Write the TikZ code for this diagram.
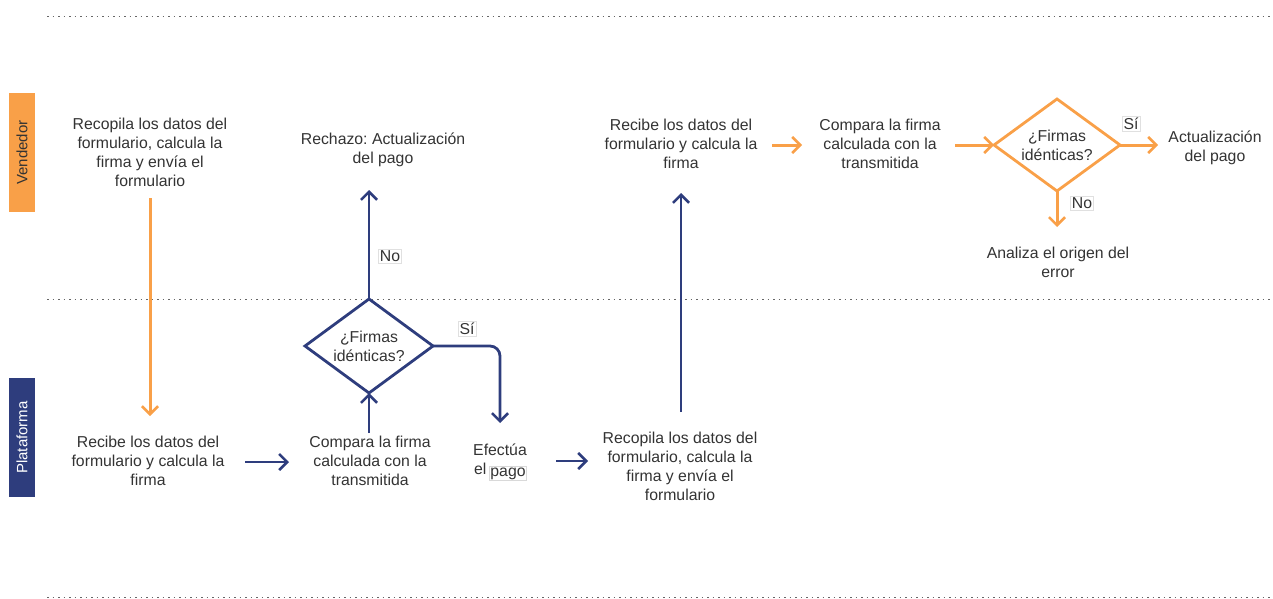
\documentclass[tikz,border=0pt]{standalone}
\usepackage{fontspec}
\setmainfont{Liberation Sans}
\usetikzlibrary{arrows.meta,shapes.geometric}
\definecolor{orng}{HTML}{F9A048}
\definecolor{navy}{HTML}{2E3D7D}
\definecolor{txt}{HTML}{333333}
\frenchspacing
\tikzset{
  lbl/.style={align=center,text=txt,font=\fontsize{15.8}{19}\selectfont\frenchspacing,inner sep=0pt},
  tag/.style={text=txt,font=\fontsize{15.8}{19}\selectfont,draw=black!12,fill=white,inner sep=1.5pt,line width=0.6pt},
  oarr/.style={draw=orng,line width=3pt,-{Straight Barb[length=8,width=16,line width=2.6pt]}},
  narr/.style={draw=navy,line width=2.8pt,-{Straight Barb[length=8,width=16,line width=2.6pt]}},
  sep/.style={draw=black!60,line width=1pt,dash pattern=on 1.5pt off 4pt},
}
\begin{document}
\begin{tikzpicture}[x=1pt,y=-1pt]
\useasboundingbox (0,0) rectangle (1273,599);
% separators
\draw[sep] (47,17) -- (1273,17);
\draw[sep] (47,299) -- (1273,299);
\draw[sep] (47,597) -- (1273,597);
% lane labels
\node[fill=orng,minimum width=26,minimum height=119,inner sep=0pt] (lv) at (22,152.5) {};
\node[rotate=90,text=txt,font=\fontsize{15}{18}\selectfont] (lvt) at (lv.center) {Vendedor};
\node[fill=navy,minimum width=26,minimum height=119,inner sep=0pt] (lp) at (22,437.5) {};
\node[rotate=90,text=white,font=\fontsize{15}{18}\selectfont] (lpt) at (lp.center) {Plataforma};
% nodes
\node[lbl] (a) at (150,152) {Recopila los datos del\\formulario, calcula la\\firma y envía el\\formulario};
\node[lbl] (b) at (148,461) {Recibe los datos del\\formulario y calcula la\\firma};
\node[lbl] (c) at (370,461) {Compara la firma\\calculada con la\\transmitida};
\draw[navy,line width=2.8pt,line join=miter] (305,346) coordinate (d1w) -- (369,299) coordinate (d1n) -- (433,346) coordinate (d1e) -- (369,393) coordinate (d1s) -- cycle;
\node[lbl] (d1t) at (369,346) {¿Firmas\\idénticas?};
\node[lbl] (r) at (383,150) {Rechazo: Actualización\\del pago};
\node[lbl] (e) at (500,461) {Efectúa\\el \phantom{pago}};
\node[text=txt,font=\fontsize{15.8}{19}\selectfont,draw=black!15,inner sep=1pt,anchor=base,line width=0.6pt] (epago) at (508,476) {pago};
\node[lbl] (f) at (680,466) {Recopila los datos del\\formulario, calcula la\\firma y envía el\\formulario};
\node[lbl] (g) at (681,144) {Recibe los datos del\\formulario y calcula la\\firma};
\node[lbl] (h) at (880,144) {Compara la firma\\calculada con la\\transmitida};
\draw[orng,line width=2.8pt,line join=miter] (994,145) coordinate (d2w) -- (1057,99) coordinate (d2n) -- (1120,145) coordinate (d2e) -- (1057,191) coordinate (d2s) -- cycle;
\node[lbl] (d2t) at (1057,145) {¿Firmas\\idénticas?};
\node[lbl] (i) at (1215,148) {Actualización\\del pago};
\node[lbl] (j) at (1058,262) {Analiza el origen del\\error};
% connectors
\coordinate (a1) at (150,198);
\coordinate (b1) at (150,416);
\draw[oarr] (a1) -- (b1);
\coordinate (b2) at (245,462);
\coordinate (c2) at (289,462);
\draw[narr] (b2) -- (c2);
\coordinate (c3) at (369,433);
\draw[narr] (c3) -- (d1s);
\coordinate (r1) at (369,190);
\draw[narr] (d1n) -- (r1);
\node[tag] (no1) at (390,256) {No};
\coordinate (e1) at (500,423);
\draw[narr,rounded corners=10pt] (d1e) -- (500,346) -- (e1);
\node[tag] (si1) at (467,329) {Sí};
\coordinate (e2) at (556,461);
\coordinate (f2) at (588,461);
\draw[narr] (e2) -- (f2);
\coordinate (f1) at (681,412);
\coordinate (g1) at (681,193);
\draw[narr] (f1) -- (g1);
\coordinate (g2) at (772,145);
\coordinate (h2) at (802,145);
\draw[oarr] (g2) -- (h2);
\coordinate (h3) at (955,145);
\draw[oarr] (h3) -- (d2w);
\coordinate (i1) at (1158,145);
\draw[oarr] (d2e) -- (i1);
\node[tag] (si2) at (1131,124) {Sí};
\coordinate (j1) at (1057,227);
\draw[oarr] (d2s) -- (j1);
\node[tag] (no2) at (1082,203) {No};
\end{tikzpicture}
\end{document}
